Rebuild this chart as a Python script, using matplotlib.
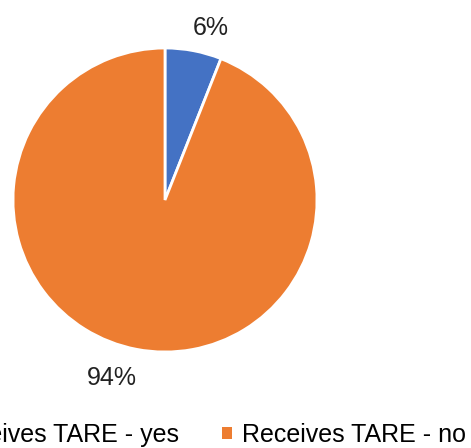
import matplotlib
matplotlib.use("Agg")
import matplotlib.pyplot as plt
from matplotlib.patches import Patch

plt.rcParams['font.family'] = ['Liberation Sans', 'DejaVu Sans']

categories = ["Receives TARE - yes", "Receives TARE - no"]
shares = [6, 94]
pct_labels = ["6%", "94%"]
colors = ["#4472C4", "#ED7D31"]

W, H = 471, 448
fig = plt.figure(figsize=(W / 100, H / 100), dpi=100)

# square pie axes: centre (165, 200) px, radius 152 px
cx, cy, r = 165, 200, 152
ax = fig.add_axes([(cx - r) / W, 1 - (cy + r) / H, 2 * r / W, 2 * r / H])
wedges, _ = ax.pie(shares, colors=colors, startangle=90, counterclock=False,
                   wedgeprops=dict(edgecolor="white", linewidth=2))
ax.set_xlim(-1, 1)
ax.set_ylim(-1, 1)
ax.set_aspect("equal")
ax.axis("off")

# percentage labels outside the slices
label_pos = [(0.30, 1.13), (-0.35, -1.17)]
for (x, y), t in zip(label_pos, pct_labels):
    ax.text(x, y, t, ha="center", va="center", fontsize=18, color="#222222")

handles = [Patch(facecolor=c, edgecolor="none") for c in colors]
fig.legend(handles, categories, loc="center right", ncol=2,
           bbox_to_anchor=(466 / W, 1 - 435 / H), frameon=False, fontsize=18,
           handlelength=0.4, handleheight=0.4, handletextpad=0.4,
           columnspacing=1.7, borderpad=0, borderaxespad=0)

fig.savefig("out.png", dpi=100)
